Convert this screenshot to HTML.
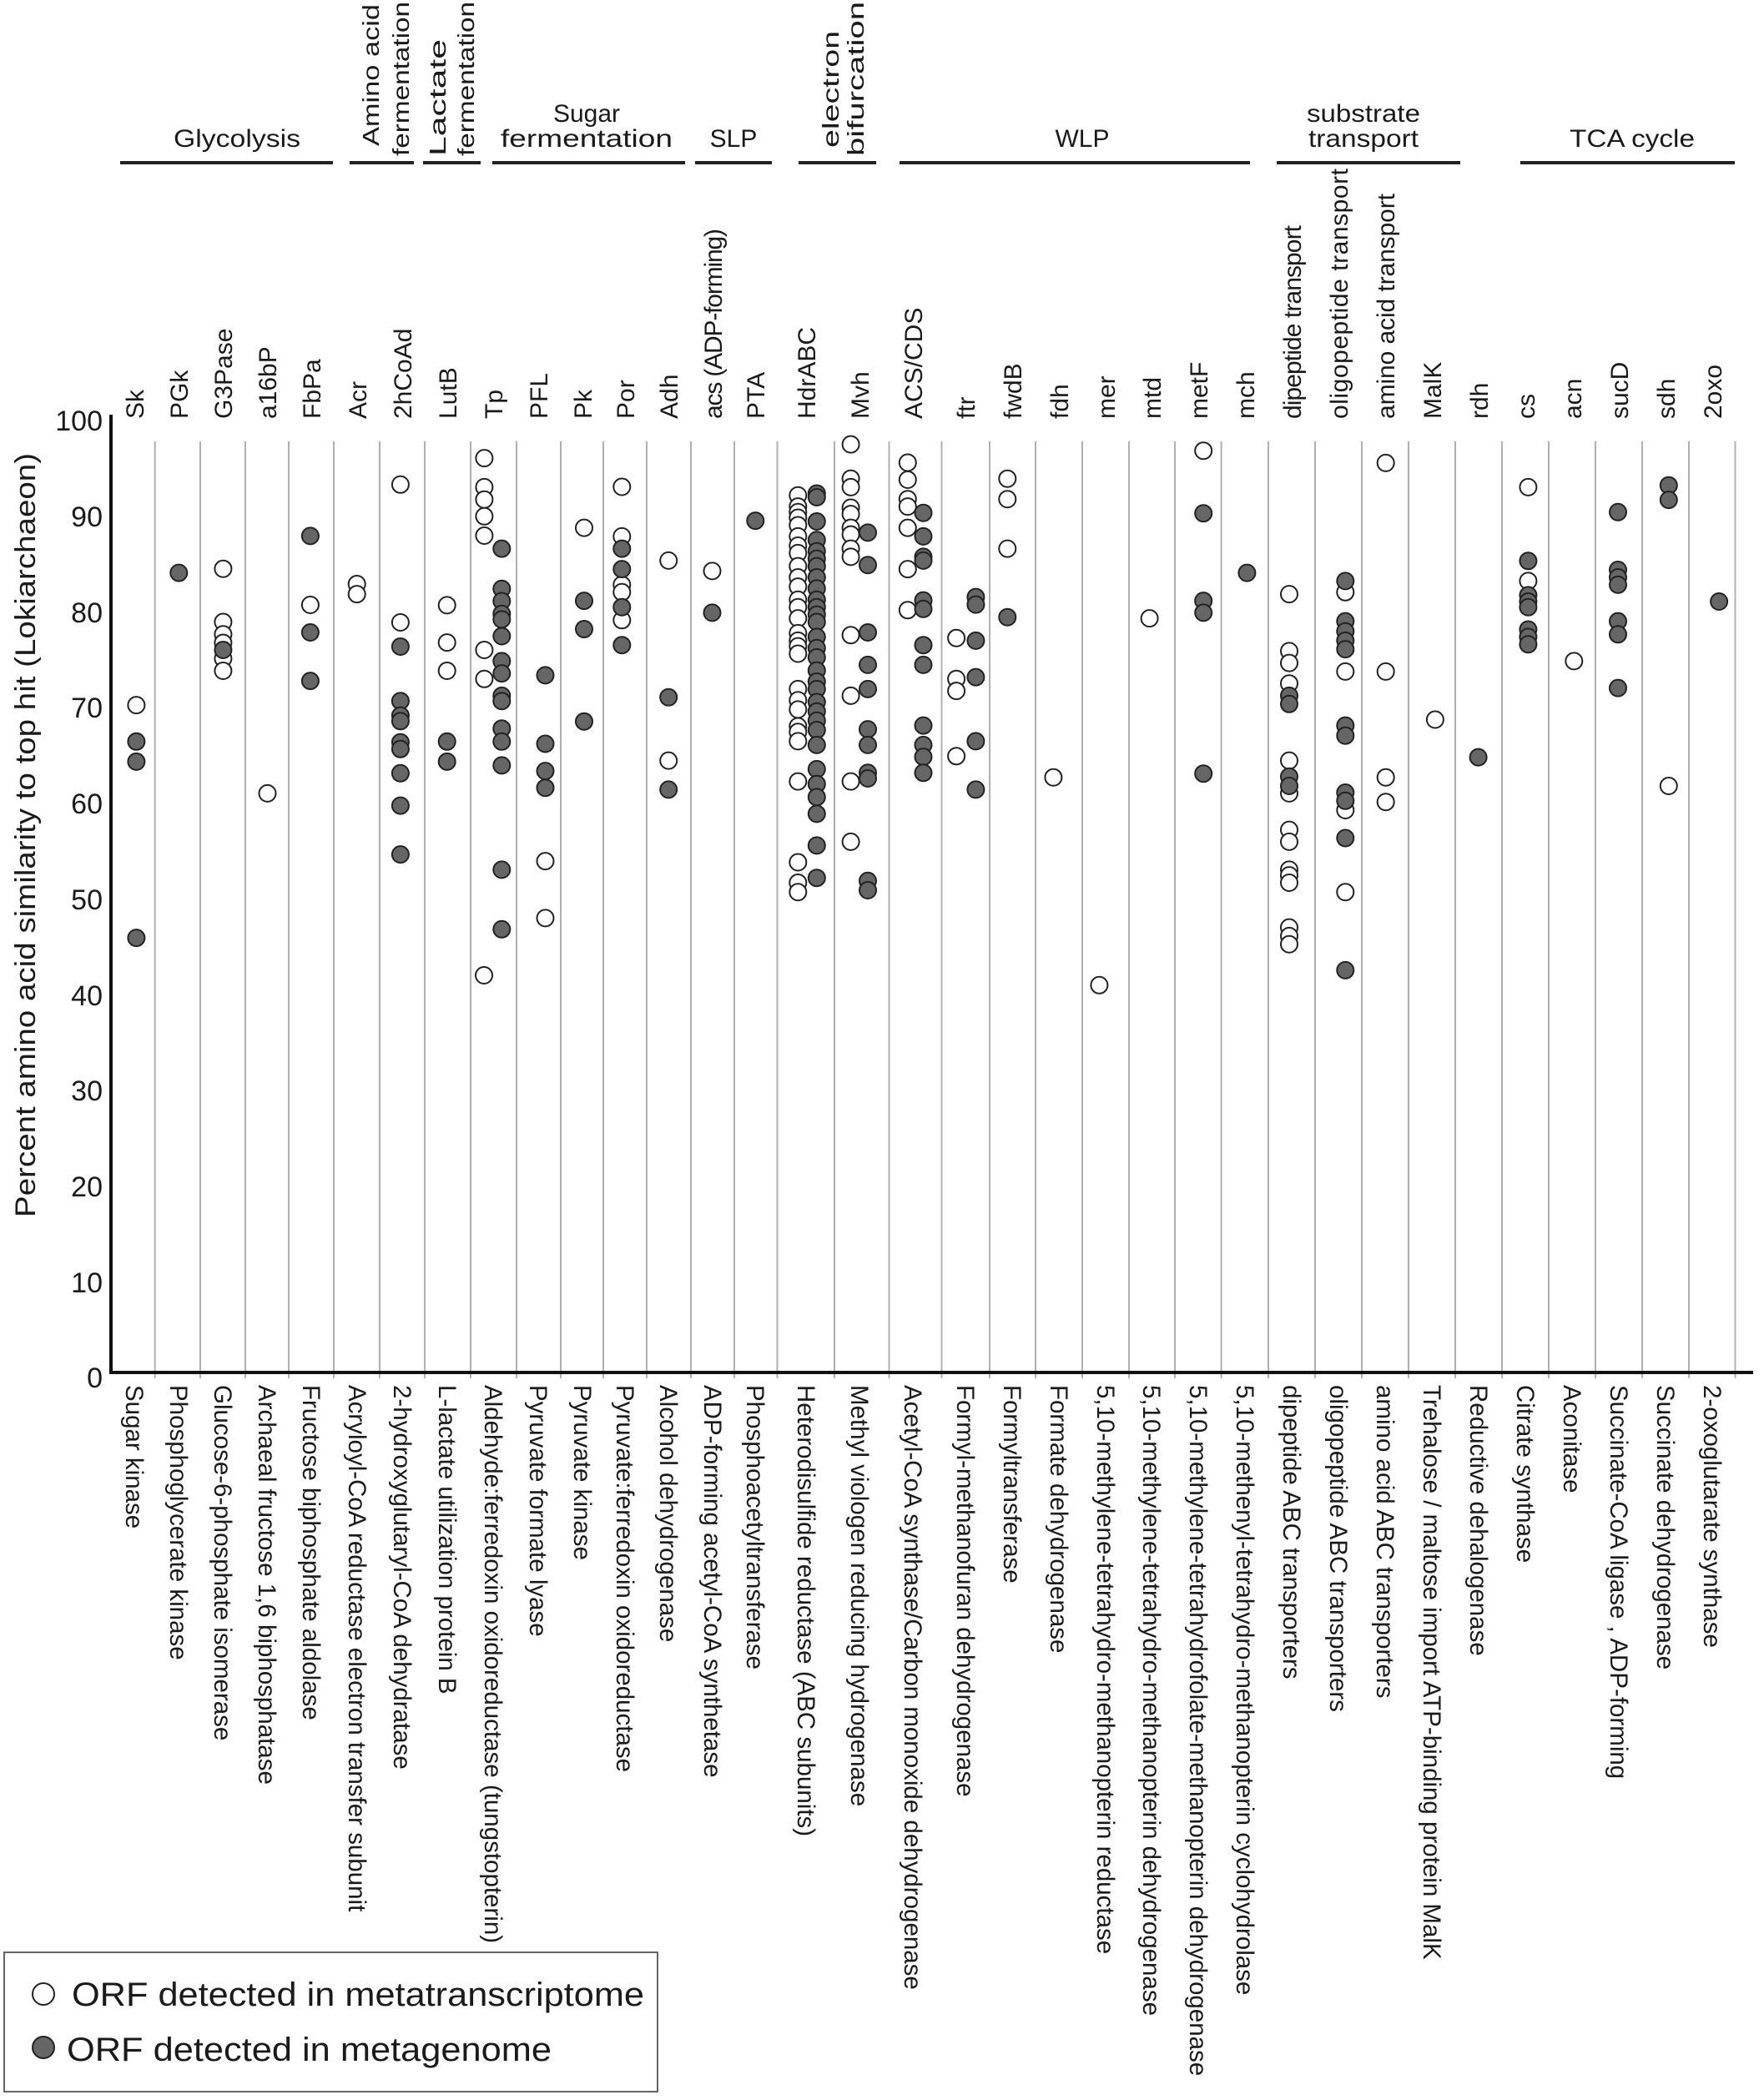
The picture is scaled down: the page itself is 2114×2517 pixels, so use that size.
<!DOCTYPE html>
<html><head><meta charset="utf-8">
<style>
html,body{margin:0;padding:0;background:#fff;}
svg{display:block;}
text{font-family:"Liberation Sans",Arial,sans-serif;fill:#1a1a1a;}
</style></head>
<body>
<svg id="s" width="2114" height="2517" viewBox="0 0 2114 2517" xmlns="http://www.w3.org/2000/svg">
<rect width="2114" height="2517" fill="#fff"/>
<g id="grid" stroke="#b0b0b0" stroke-width="2"></g>
<line x1="133" y1="497" x2="133" y2="1647" stroke="#111" stroke-width="4"/>
<line x1="131" y1="1645" x2="2101" y2="1645" stroke="#111" stroke-width="4"/>
<g font-size="34" text-anchor="end">
<text x="123" y="516">100</text>
<text x="123" y="631">90</text>
<text x="123" y="746">80</text>
<text x="123" y="860">70</text>
<text x="123" y="975">60</text>
<text x="123" y="1090">50</text>
<text x="123" y="1205">40</text>
<text x="123" y="1319">30</text>
<text x="123" y="1434">20</text>
<text x="123" y="1549">10</text>
<text x="123" y="1663">0</text>
</g>
<text transform="translate(42,1001) rotate(-90)" font-size="34" text-anchor="middle" textLength="916" lengthAdjust="spacingAndGlyphs">Percent amino acid similarity to top hit (Lokiarchaeon)</text>

<g stroke="#222" stroke-width="4">
<line x1="144" y1="195" x2="399" y2="195"/>
<line x1="419" y1="195" x2="496" y2="195"/>
<line x1="507" y1="195" x2="576" y2="195"/>
<line x1="590" y1="195" x2="821" y2="195"/>
<line x1="833" y1="195" x2="925" y2="195"/>
<line x1="957" y1="195" x2="1050" y2="195"/>
<line x1="1078" y1="195" x2="1498" y2="195"/>
<line x1="1530" y1="195" x2="1750" y2="195"/>
<line x1="1822" y1="195" x2="2079" y2="195"/>
</g>
<g font-size="30" text-anchor="middle">
<text x="284" y="176" textLength="152" lengthAdjust="spacingAndGlyphs">Glycolysis</text>
<text x="703" y="146">Sugar</text>
<text x="703" y="176" textLength="206" lengthAdjust="spacingAndGlyphs">fermentation</text>
<text x="879" y="176">SLP</text>
<text x="1297" y="176">WLP</text>
<text x="1634" y="146" textLength="136" lengthAdjust="spacingAndGlyphs">substrate</text>
<text x="1634" y="176" textLength="132" lengthAdjust="spacingAndGlyphs">transport</text>
<text x="1956" y="176" textLength="150" lengthAdjust="spacingAndGlyphs">TCA cycle</text>
</g>
<g font-size="28" text-anchor="start">
<text transform="translate(454,175) rotate(-90)" textLength="170" lengthAdjust="spacingAndGlyphs">Amino acid</text>
<text transform="translate(490,187) rotate(-90)" textLength="185" lengthAdjust="spacingAndGlyphs">fermentation</text>
<text transform="translate(534,187) rotate(-90)" textLength="140" lengthAdjust="spacingAndGlyphs">Lactate</text>
<text transform="translate(568,187) rotate(-90)" textLength="185" lengthAdjust="spacingAndGlyphs">fermentation</text>
<text transform="translate(1005,177) rotate(-90)" textLength="140" lengthAdjust="spacingAndGlyphs">electron</text>
<text transform="translate(1035,187) rotate(-90)" textLength="185" lengthAdjust="spacingAndGlyphs">bifurcation</text>
</g>

<g id="abbr" font-size="30"></g>
<g id="full" font-size="29.5"></g>
<g id="pts"></g>

<rect x="5" y="2340" width="783" height="167" fill="none" stroke="#666" stroke-width="2"/>
<circle cx="52" cy="2390" r="13" fill="#fff" stroke="#222" stroke-width="2"/>
<circle cx="52" cy="2454" r="13" fill="#666" stroke="#222" stroke-width="2"/>
<text x="86" y="2404" font-size="40" textLength="686" lengthAdjust="spacingAndGlyphs">ORF detected in metatranscriptome</text>
<text x="80" y="2470" font-size="40" textLength="581" lengthAdjust="spacingAndGlyphs">ORF detected in metagenome</text>
</svg>
<script>
var NS="http://www.w3.org/2000/svg";
function el(t,a,p,txt){var e=document.createElementNS(NS,t);for(var k in a)e.setAttribute(k,a[k]);if(txt!==undefined)e.textContent=txt;p.appendChild(e);return e;}
var B=[185.7,240,294,346,400,455,509,564,619,672,723,775,828,880,931.5,1000,1065.5,1128.5,1186,1241,1297,1353,1408,1463.6,1520,1576,1632,1688,1744,1800,1856,1912,1968,2024,2079.5];
var g=document.getElementById('grid');
B.forEach(function(x){el('line',{x1:x,y1:529,x2:x,y2:1652},g);});
var C=[161,214,267,320,373,428,482,536,591,645,698,749,801,854,905,966,1030,1094,1157,1213,1269,1325,1380,1436,1492,1548,1604,1660,1716,1772,1828,1884,1940,1996,2052];
var AB=["Sk","PGk","G3Pase","a16bP","FbPa","Acr","2hCoAd","LutB","Tp","PFL","Pk","Por","Adh","acs (ADP-forming)","PTA","HdrABC","Mvh","ACS/CDS","ftr","fwdB","fdh","mer","mtd","metF","mch","dipeptide transport","oligopeptide transport","amino acid transport","MalK","rdh","cs","acn","sucD","sdh","2oxo"];
var FN=["Sugar kinase","Phosphoglycerate kinase","Glucose-6-phosphate isomerase","Archaeal fructose 1,6 biphosphatase","Fructose biphosphate aldolase","Acryloyl-CoA reductase electron transfer subunit","2-hydroxyglutaryl-CoA dehydratase","L-lactate utilization protein B","Aldehyde:ferredoxin oxidoreductase (tungstopterin)","Pyruvate formate lyase","Pyruvate kinase","Pyruvate:ferredoxin oxidoreductase","Alcohol dehydrogenase","ADP-forming acetyl-CoA synthetase","Phosphoacetyltransferase","Heterodisulfide reductase (ABC subunits)","Methyl viologen reducing hydrogenase","Acetyl-CoA synthase/Carbon monoxide dehydrogenase","Formyl-methanofuran dehydrogenase","Formyltransferase","Formate dehydrogenase","5,10-methylene-tetrahydro-methanopterin reductase","5,10-methylene-tetrahydro-methanopterin dehydrogenase","5,10-methylene-tetrahydrofolate-methanopterin dehydrogenase","5,10-methenyl-tetrahydro-methanopterin cyclohydrolase","dipeptide ABC transporters","oligopeptide ABC transporters","amino acid ABC transporters","Trehalose / maltose import ATP-binding protein MalK","Reductive dehalogenase","Citrate synthase","Aconitase","Succinate-CoA ligase , ADP-forming","Succinate dehydrogenase","2-oxoglutarate synthase"];
var ga=document.getElementById('abbr'),gf=document.getElementById('full');
C.forEach(function(c,i){
 var a={transform:'translate('+(c+11)+',502) rotate(-90)'};
 if(i==25)a.textLength=232; if(i==26)a.textLength=300; if(i==27)a.textLength=270; if(i==13)a.textLength=228;
 el('text',a,ga,AB[i]);
 el('text',{transform:'translate('+(c-10)+',1660) rotate(90)'},gf,FN[i]);
});
var P=[];
function z1(zx,ys,f){ys.forEach(function(y){P.push([zx/2.24,y/2.24+450,f]);});}
function z6(zx,ys,f){ys.forEach(function(y){P.push([zx/2.45+640,y/2.24+500,f]);});}
function z7(zx,ys,f){ys.forEach(function(y){P.push([zx/1.858+1270,y/2.24+500,f]);});}
z1(366,[885],0);z1(366,[983,1037,1510],1);
z1(480,[530],1);
z1(599,[519,662,695,718,760,793],0);z1(599,[737],1);
z1(718,[1122],0);
z1(833,[616],0);z1(833,[431,690,820],1);
z1(958,[560,587],0);
z1(1075,[293,663],0);z1(1075,[728,874,913,928,985,1003,1068,1155,1286],1);
z1(1200,[617,717,793],0);z1(1200,[983,1037],1);
z1(1300,[222,300,333,378,430,737,815],0);P.push([580,1169,0]);
z1(1347,[465,573,606,640,655,700,767,800,860,874,948,983,1047,1327,1487],1);
z6(33,[693,877,950,995],1);z6(33,[1192,1345],0);
z6(147,[297],0);z6(147,[493,569,817],1);
z6(258,[187,320,450,470,545],0);z6(258,[353,408,510,612],1);
z6(395,[385,922],0);z6(395,[752,1000],1);
z6(523,[413],0);z6(523,[525],1);
z6(650,[278],1);
z6(775,[210,240,255,270,290,320,345,365,400,430,455,490,510,540,580,600,615,635,730,760,785,830,845,870,978,1195,1250,1275],0);
z6(830,[205,215,280,330,360,380,400,430,460,490,510,530,550,590,620,645,680,710,730,765,790,815,840,880,945,985,1020,1065,1150,1237],1);
z6(930,[73,165,188,243,260,297,315,353,375,585,748,978,1140],0);
z6(980,[310,397,578,665,730,838,880,955,970,1245,1270],1);
z6(1097,[122,168,220,240,297,408,518],0);
z6(1143,[257,320,375,385,492,515,612,665,828,880,912,955],1);
z6(1240,[593,703,735,910],0);z6(1297,[483,503,600,698,870,1000],1);
z6(1390,[165,220,353],0);z6(1390,[537],1);
z6(1525,[967],0);
z7(88,[1525],0);
z7(200,[540],0);
z7(320,[90],0);z7(320,[258,493,525,957],1);
z7(417,[418],1);
z7(511,[475,628,660,715,922,1010,1108,1140,1215,1230,1250,1370,1393,1415],0);z7(511,[748,770,965,990],1);
z7(636,[470,683,1055,1275],0);z7(636,[440,548,575,600,623,828,855,1008,1030,1130,1485],1);
z7(726,[123,683,967,1033],0);
z7(836,[812],0);
z7(932,[913],1);
z7(1043,[188,440],0);z7(1043,[386,478,495,510,570,590,610],1);
z7(1145,[655],0);
z7(1243,[255,410,430,450,548,583,727],1);
z7(1356,[990],0);z7(1356,[183,222],1);
z7(1468,[495],1);
var gp=document.getElementById('pts');
P.forEach(function(p){el('circle',{cx:p[0].toFixed(1),cy:p[1].toFixed(1),r:10,fill:p[2]?'#666':'#fff',stroke:'#222','stroke-width':2},gp);});
</script>
</body></html>
